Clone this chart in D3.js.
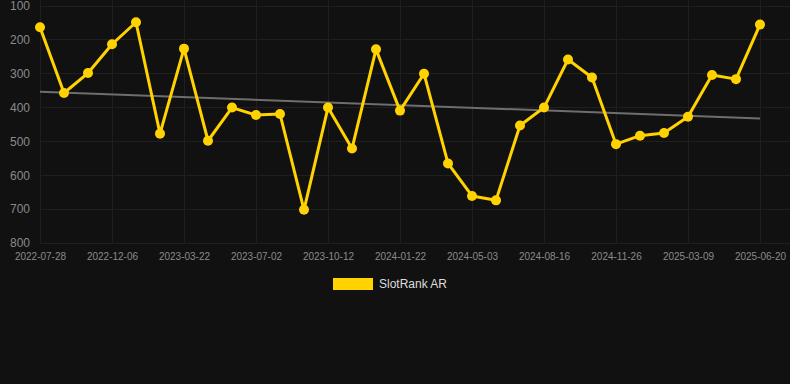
<!DOCTYPE html>
<html>
<head>
<meta charset="utf-8">
<script src="https://cdn.jsdelivr.net/npm/d3@7"></script>
<style>
  html, body { margin: 0; padding: 0; background: #111111; }
  svg { display: block; font-family: "Liberation Sans", Arial, Helvetica, sans-serif; }
</style>
</head>
<body>
<svg id="chart" width="790" height="384"></svg>
<script>
const categories = [
  "2022-07-28","2022-09-11","2022-10-24","2022-12-06","2023-01-10","2023-02-15",
  "2023-03-22","2023-04-27","2023-05-28","2023-07-02","2023-08-07","2023-09-09",
  "2023-10-12","2023-11-18","2023-12-20","2024-01-22","2024-02-28","2024-04-01",
  "2024-05-03","2024-06-08","2024-07-12","2024-08-16","2024-09-20","2024-10-23",
  "2024-11-26","2024-12-30","2025-02-03","2025-03-09","2025-04-12","2025-05-16",
  "2025-06-20"
];
const rankValues = [
  163, 357, 298, 213, 148, 477, 226, 498, 400, 422, 419, 702, 400, 521, 228, 409,
  300, 565, 661, 674, 453, 400, 258, 311, 508, 483, 475, 427, 304, 316, 155
];
const xTickLabels = ["2022-07-28","2022-12-06","2023-03-22","2023-07-02","2023-10-12",
  "2024-01-22","2024-05-03","2024-08-16","2024-11-26","2025-03-09","2025-06-20"];
const yTicks = [100, 200, 300, 400, 500, 600, 700, 800];
const seriesName = "SlotRank AR";

(function () {
const svg = d3.select("#chart");
const pLeft = 40, pRight = 760, pTop = 6, pBottom = 243, gridRight = 790;

const x = d3.scalePoint().domain(categories).range([pLeft, pRight]);
const y = d3.scaleLinear().domain([100, 800]).range([pTop, pBottom]);

// grid
const grid = svg.append("g");
grid.selectAll("line.h").data(yTicks).join("line")
  .attr("x1", pLeft).attr("x2", gridRight)
  .attr("y1", d => y(d)).attr("y2", d => y(d))
  .attr("stroke", "#1f1f1f").attr("stroke-width", 1).attr("shape-rendering", "crispEdges");
grid.selectAll("line.v").data(xTickLabels).join("line")
  .attr("x1", d => x(d)).attr("x2", d => x(d))
  .attr("y1", 0).attr("y2", pBottom)
  .attr("stroke", "#1f1f1f").attr("stroke-width", 1).attr("shape-rendering", "crispEdges");

// y axis labels
const yAxis = d3.axisLeft(y).tickValues(yTicks).tickSize(0).tickPadding(0);
const gy = svg.append("g").attr("transform", "translate(30,0)").call(yAxis);
gy.select(".domain").remove();
gy.selectAll("text").attr("fill", "#8a8a8a").attr("font-size", 12)
  .attr("font-family", "Liberation Sans, Arial, sans-serif");

// x axis labels
const xAxis = d3.axisBottom(x).tickValues(xTickLabels).tickSize(0).tickPadding(0);
const gx = svg.append("g").attr("transform", `translate(0,${pBottom + 10})`).call(xAxis);
gx.select(".domain").remove();
gx.selectAll("text").attr("fill", "#8a8a8a").attr("font-size", 10)
  .attr("font-family", "Liberation Sans, Arial, sans-serif");

// trend line (least squares)
const n = rankValues.length;
const idx = d3.range(n);
const mx = d3.mean(idx), my = d3.mean(rankValues);
const slope = d3.sum(idx, i => (i - mx) * (rankValues[i] - my)) / d3.sum(idx, i => (i - mx) ** 2);
const icpt = my - slope * mx;
const trend = [0, n - 1].map(i => [categories[i], icpt + slope * i]);
svg.append("path").datum(trend)
  .attr("d", d3.line().x(d => x(d[0])).y(d => y(d[1])))
  .attr("fill", "none").attr("stroke", "#6e6e6e").attr("stroke-width", 2);

// main line
const data = categories.map((c, i) => ({c, v: rankValues[i]}));
svg.append("path").datum(data)
  .attr("d", d3.line().x(d => x(d.c)).y(d => y(d.v)))
  .attr("fill", "none").attr("stroke", "#FFD200").attr("stroke-width", 3)
  .attr("stroke-linejoin", "round");
svg.append("g").selectAll("circle").data(data).join("circle")
  .attr("cx", d => x(d.c)).attr("cy", d => y(d.v)).attr("r", 5)
  .attr("fill", "#FFD200");

// legend
const lg = svg.append("g");
lg.append("rect").attr("x", 333).attr("y", 278).attr("width", 40).attr("height", 12)
  .attr("fill", "#FFD200");
lg.append("text").attr("x", 379).attr("y", 284).attr("dy", "0.35em")
  .attr("fill", "#dddddd").attr("font-size", 12).text(seriesName);
})();
</script>
</body>
</html>
